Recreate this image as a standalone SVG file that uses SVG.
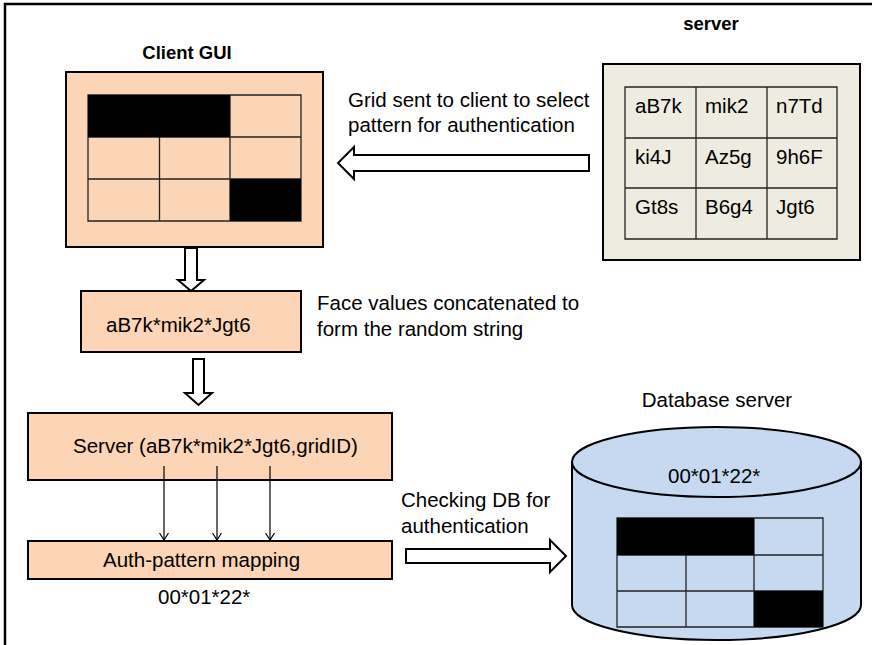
<svg xmlns="http://www.w3.org/2000/svg" width="872" height="645" viewBox="0 0 872 645">
<style>
text{font-family:"Liberation Sans",Arial,sans-serif;font-size:20.5px;fill:#000}
.b{font-weight:bold;font-size:18.5px}
.box{stroke:#000;stroke-width:2}
.peach{fill:#FBD5B5}
.grid{fill:none;stroke:#222;stroke-width:1.3}
.blk{fill:#000}
.fat{fill:#fff;stroke:#000;stroke-width:2;stroke-linejoin:miter}
.thin{stroke:#000;stroke-width:1.2;fill:none}
</style>
<defs>
<marker id="v" viewBox="0 0 8 10" refX="7.5" refY="5" markerWidth="8" markerHeight="10" markerUnits="userSpaceOnUse" orient="auto">
<path d="M0.5,0.5 L7.5,5 L0.5,9.5" fill="none" stroke="#000" stroke-width="1.2"/>
</marker>
</defs>
<rect width="872" height="645" fill="#fff"/>
<path d="M5,645 V4 H872" fill="none" stroke="#000" stroke-width="2.5"/>

<g id="client-gui">
<text class="b" x="187" y="59" text-anchor="middle">Client GUI</text>
<rect class="box peach" x="66" y="72" width="257" height="175"/>
<path class="grid" d="M88,95 H301 V221 H88 Z M88,137 H301 M88,179 H301 M159.5,95 V221 M230,95 V221"/>
<rect class="blk" x="88" y="95" width="142" height="42"/>
<rect class="blk" x="230" y="179" width="71" height="42"/>
</g>

<g id="server">
<text class="b" x="711" y="30" text-anchor="middle">server</text>
<rect class="box" x="603" y="64" width="257" height="196" fill="#EEECE1" stroke-width="2.5"/>
<path class="grid" d="M625,87 H837 V239 H625 Z M625,138 H837 M625,188 H837 M696,87 V239 M767,87 V239"/>
<text x="635" y="113">aB7k</text><text x="705" y="113">mik2</text><text x="776" y="113">n7Td</text>
<text x="635" y="164">ki4J</text><text x="705" y="164">Az5g</text><text x="776" y="164">9h6F</text>
<text x="635" y="214">Gt8s</text><text x="705" y="214">B6g4</text><text x="776" y="214">Jgt6</text>
</g>

<g id="random-string">
<rect class="box peach" x="81" y="291" width="220" height="61"/>
<text x="106" y="332">aB7k*mik2*Jgt6</text>
</g>

<g id="server-call">
<rect class="box peach" x="28" y="413" width="364" height="67"/>
<text x="73" y="453">Server (aB7k*mik2*Jgt6,gridID)</text>
</g>

<g id="auth-mapping">
<rect class="box peach" x="28" y="541" width="364" height="38"/>
<text x="103" y="567">Auth-pattern mapping</text>
<text x="158" y="604">00*01*22*</text>
</g>

<g id="database">
<text x="717" y="407" text-anchor="middle">Database server</text>
<path d="M572,462 V605 A144.5,35 0 0 0 861,605 V462 Z" fill="#C6D9F1" stroke="#000" stroke-width="2"/>
<ellipse cx="716.5" cy="462" rx="144.5" ry="35" fill="#C6D9F1" stroke="#000" stroke-width="2"/>
<text x="668" y="483">00*01*22*</text>
<path class="grid" d="M617,518 H823 V627 H617 Z M617,555 H823 M617,591 H823 M686,518 V627 M754,518 V627"/>
<rect class="blk" x="617" y="518" width="137" height="37"/>
<rect class="blk" x="754" y="591" width="69" height="36"/>
</g>

<g id="labels">
<text x="348" y="107">Grid sent to client to select</text>
<text x="348" y="132">pattern for authentication</text>
<text x="317" y="310">Face values concatenated to</text>
<text x="317" y="336">form the random string</text>
<text x="401" y="507">Checking DB for</text>
<text x="401" y="533">authentication</text>
</g>

<g id="connectors">
<polygon class="fat" points="589,155 354,155 354,147 338,163 354,179 354,171 589,171"/>
<polygon class="fat" points="185,248 197,248 197,280 204,280 191,291 178,280 185,280"/>
<polygon class="fat" points="193,359 204,359 204,393 212,393 198.5,405 185,393 193,393"/>
<line class="thin" x1="164" y1="466" x2="164" y2="540" marker-end="url(#v)"/>
<line class="thin" x1="217" y1="466" x2="217" y2="540" marker-end="url(#v)"/>
<line class="thin" x1="270" y1="466" x2="270" y2="540" marker-end="url(#v)"/>
<polygon class="fat" points="406,549 550,549 550,540 566,556 550,572 550,563 406,563"/>
</g>
</svg>
